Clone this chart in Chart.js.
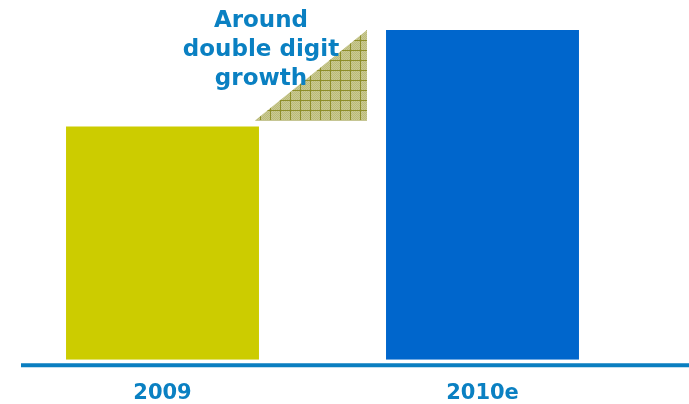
<!DOCTYPE html>
<html>
<head>
<meta charset="utf-8">
<script src="https://cdn.jsdelivr.net/npm/chart.js@4"></script>
<style>
  html, body { margin: 0; padding: 0; background: #fff; }
  #wrap { width: 689px; height: 404px; position: relative; }
</style>
</head>
<body>
<div id="wrap"><canvas id="chart"></canvas></div>
<script>
// ---------------------------------
// Data
// ---------------------------------
const years = ["2009", "2010e"];
const sales = [100, 141.3];
const barColors = ["#cccc00", "#0066cc"];

// growth wedge: x in category units, y in value units
const wedgeX = [0.289, 0.639];
const wedgeY = [102.6, 141.3];
const wedgeText = ["Around", "double digit", "growth"];

const blueText = "#0a80c2";

// hatched olive fill for the wedge
function makePattern() {
  const c = document.createElement("canvas");
  c.width = 10;
  c.height = 10;
  const g = c.getContext("2d");
  g.fillStyle = "#cbcb93";
  g.fillRect(0, 0, 10, 10);
  g.fillStyle = "#b9b97a";
  for (let y = 0; y < 10; y++) {
    for (let x = (y % 2); x < 10; x += 2) g.fillRect(x, y, 1, 1);
  }
  g.fillStyle = "#8e8e2a";
  g.fillRect(0, 0, 10, 1);
  g.fillRect(0, 0, 1, 10);
  return g.createPattern(c, "repeat");
}

const extras = {
  id: "extras",
  beforeDatasetsDraw(chart) {
    const { ctx, scales } = chart;
    const x = scales.x, y = scales.y;
    const x0 = x.getPixelForValue(wedgeX[0]);
    const x1 = x.getPixelForValue(wedgeX[1]);
    const yb = y.getPixelForValue(wedgeY[0]);
    const yt = y.getPixelForValue(wedgeY[1]);
    ctx.save();
    ctx.fillStyle = makePattern();
    ctx.beginPath();
    ctx.moveTo(x0, yb);
    ctx.lineTo(x1, yb);
    ctx.lineTo(x1, yt);
    ctx.closePath();
    ctx.fill();
    ctx.restore();
  },
  afterDatasetsDraw(chart) {
    const { ctx, scales } = chart;
    const y0 = scales.y.getPixelForValue(0);
    ctx.save();
    // baseline
    ctx.strokeStyle = "#0a7ec0";
    ctx.lineWidth = 4;
    ctx.beginPath();
    ctx.moveTo(21, y0 + 5.5);
    ctx.lineTo(chart.width, y0 + 5.5);
    ctx.stroke();

    // annotation
    const cx = scales.x.getPixelForValue((wedgeX[0] + wedgeX[1]) / 2) - 50;
    const ty = scales.y.getPixelForValue(wedgeY[1]) - 9;
    ctx.fillStyle = blueText;
    ctx.font = "bold 23px 'DejaVu Sans'";
    ctx.textAlign = "center";
    ctx.textBaseline = "middle";
    wedgeText.forEach((t, i) => ctx.fillText(t, cx, ty + i * 29));
    ctx.restore();
  }
};

new Chart(document.getElementById("chart"), {
  type: "bar",
  data: {
    labels: years,
    datasets: [{
      data: sales,
      backgroundColor: barColors,
      borderWidth: 0,
      barPercentage: 0.603,
      categoryPercentage: 1
    }]
  },
  options: {
    responsive: true,
    maintainAspectRatio: false,
    animation: false,
    layout: { padding: { left: 2.5, right: 46.5, top: 0, bottom: -15 } },
    plugins: {
      legend: { display: false },
      tooltip: { enabled: false }
    },
    scales: {
      x: {
        grid: { display: false },
        border: { display: false },
        ticks: {
          color: blueText,
          padding: 13,
          font: { family: "DejaVu Sans", size: 21, weight: "bold", lineHeight: 1.2 }
        }
      },
      y: {
        display: false,
        min: 0,
        max: 154.2
      }
    }
  },
  plugins: [extras]
});
</script>
</body>
</html>
